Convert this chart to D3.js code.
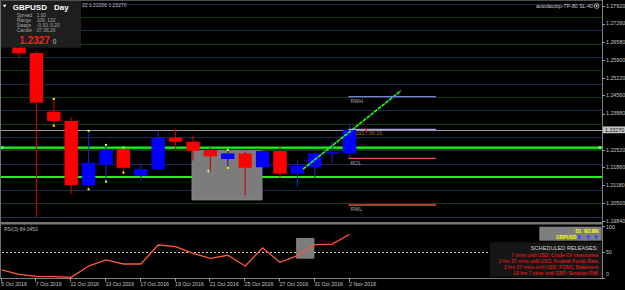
<!DOCTYPE html>
<html><head><meta charset="utf-8">
<script src="https://cdn.jsdelivr.net/npm/d3@7"></script>
<style>
html,body{margin:0;padding:0;background:#000;overflow:hidden}
svg{display:block}
text{font-family:"Liberation Sans",Arial,sans-serif}
</style></head><body>
<svg id="c" width="625" height="290"></svg>
<script>
// ---------------- DATA ----------------
const dates  = ["5 Oct","6 Oct","7 Oct","10 Oct","11 Oct","12 Oct","13 Oct","14 Oct","17 Oct","18 Oct","19 Oct","20 Oct","21 Oct","24 Oct","25 Oct","26 Oct","27 Oct","28 Oct","31 Oct","1 Nov","2 Nov"];
const opens  = [1.2745,1.2712,1.2615,1.2395,1.2360,1.2119,1.2195,1.2254,1.2154,1.2178,1.2297,1.2282,1.2251,1.2217,1.2238,1.2186,1.2247,1.2162,1.2186,1.2238,1.2238];
const highs  = [1.2765,1.2728,1.2623,1.2443,1.2374,1.2323,1.2270,1.2260,1.2201,1.2323,1.2330,1.2304,1.2261,1.2251,1.2245,1.2250,1.2270,1.2213,1.2247,1.2282,1.2351];
const lows   = [1.2700,1.2599,1.1998,1.2342,1.2086,1.2103,1.2132,1.2166,1.2136,1.2176,1.2251,1.2211,1.2169,1.2184,1.2081,1.2153,1.2148,1.2113,1.2145,1.2203,1.2220];
const closes = [1.2712,1.2614,1.2429,1.2360,1.2119,1.2203,1.2254,1.2184,1.2179,1.2297,1.2282,1.2248,1.2227,1.2238,1.2184,1.2247,1.2162,1.2191,1.2238,1.2243,1.2327];
const rsiValues = [14.6,6.0,2.3,1.6,0.4,22.3,34.0,26.2,26.2,63.1,59.8,47.0,37.3,43.1,22.3,57.3,29.5,42.3,63.7,65.0,84.045];
const markedBars = [3,5,6,7,13];               // yellow high/low markers
const priceTicks = [1.27920,1.27260,1.26580,1.25900,1.25220,1.24560,1.23880,1.22520,1.21860,1.21180,1.20500,1.19840];
const dateTickIdx = [0,2,4,6,8,10,12,14,16,18,20];
const dateTickLabels = ["5 Oct 2016","7 Oct 2016","11 Oct 2016","13 Oct 2016","17 Oct 2016","19 Oct 2016","21 Oct 2016","25 Oct 2016","27 Oct 2016","31 Oct 2016","2 Nov 2016"];
const rsiTicks = [100,50,0];
const bidPrice = 1.2327;
const greenLevels = [1.22595,1.21494];
const zoneBars = [10.94,14.97], zonePrices = [1.2248,1.2063];
const trendBars = [17.32,22.95], trendPrices = [1.2179,1.2474];
const levelBars = [19.93,24.97];
const levelNames = ["RWH","","ROL","RWL"];
const levelPrices = [1.24512,1.23286,1.22197,1.20442];
const levelColors = ["#7f7fe0","#a4a4e4","#f04848","#f04848"];
const rsiZoneBars = [16.96,17.95], rsiZoneVals = [76,37.5];
const releases = ["7 mins until USD: Crude Oil Inventories","3 hrs 37 mins until USD: Federal Funds Rate","3 hrs 37 mins until USD: FOMC Statement","19 hrs 7 mins until GBP: Services PMI"];
const infoLabels = ["Spread","Range","Swaps","Candle"];
const infoValues = ["1.00","109, 132","-0.33, 0.20","07:36:26"];
const headerText = "22 1.22200 1.23270";

// ---------------- LAYOUT ----------------
const W=625,H=290,PR=602,MB=222,RT=224.5,RB=278;
const svg=d3.select("#c");
const x=d3.scaleLinear().domain([0,20]).range([1.6,349.6]);
const y=d3.scaleLinear().domain([1.1984,1.2792]).range([221,6]);
const ry=d3.scaleLinear().domain([0,100]).range([277.5,226]);
const cr=v=>Math.round(v)+0.5;

svg.append("rect").attr("width",W).attr("height",H).attr("fill","#000");
const defs=svg.append("defs");
defs.append("clipPath").attr("id","mc").append("rect").attr("x",1).attr("y",0).attr("width",PR-1).attr("height",MB);
defs.append("clipPath").attr("id","rc").append("rect").attr("x",1).attr("y",RT+1).attr("width",PR-1).attr("height",RB-RT-1);

const main=svg.append("g").attr("clip-path","url(#mc)");
// grid (round levels)
const gMajor=d3.range(120,129).map(v=>v/100);
const gMinor=d3.range(120,128).map(v=>v/100+0.005);
main.selectAll(".gmaj").data(gMajor).join("line").attr("x1",1).attr("x2",PR).attr("y1",d=>cr(y(d))).attr("y2",d=>cr(y(d)))
  .attr("stroke","#1c2b4c").attr("shape-rendering","crispEdges");
main.selectAll(".gmin").data(gMinor).join("line").attr("x1",1).attr("x2",PR).attr("y1",d=>cr(y(d))).attr("y2",d=>cr(y(d)))
  .attr("stroke","#0b3c0b").attr("shape-rendering","crispEdges");
// bid line
main.append("line").attr("x1",1).attr("x2",PR).attr("y1",cr(y(bidPrice))).attr("y2",cr(y(bidPrice))).attr("stroke","#9a9aa4").attr("shape-rendering","crispEdges");
// green levels
greenLevels.forEach((p,k)=>{
  if(k===0) main.append("line").attr("x1",1).attr("x2",PR).attr("y1",y(p)).attr("y2",y(p)).attr("stroke","#00a800").attr("stroke-width",3);
  main.append("line").attr("x1",1).attr("x2",PR).attr("y1",y(p)).attr("y2",y(p)).attr("stroke","#22ee22").attr("stroke-width",k===0?1.6:2);
});
[2,600].forEach(px=>main.append("rect").attr("x",px-1.5).attr("y",y(greenLevels[0])-1.5).attr("width",3).attr("height",3).attr("fill","#66ff66"));
// grey zone
main.append("rect").attr("x",x(zoneBars[0])).attr("y",y(zonePrices[0])).attr("width",x(zoneBars[1])-x(zoneBars[0]))
  .attr("height",y(zonePrices[1])-y(zonePrices[0])).attr("fill","#7c7c7c").attr("stroke","#8e8e8e").attr("stroke-width",0.8);
// candles
const bw=13.4;
const idx=d3.range(dates.length);
main.selectAll(".wick").data(idx).join("line").attr("x1",i=>x(i)).attr("x2",i=>x(i)).attr("y1",i=>y(highs[i])).attr("y2",i=>y(lows[i]))
  .attr("stroke",i=>closes[i]>=opens[i]?"#1f1fb8":"#cc0000").attr("stroke-width",1.1);
main.selectAll(".body").data(idx).join("rect").attr("x",i=>x(i)-bw/2).attr("width",bw)
  .attr("y",i=>y(Math.max(opens[i],closes[i])))
  .attr("height",i=>Math.max(1.2,Math.abs(y(opens[i])-y(closes[i]))))
  .attr("fill",i=>closes[i]>=opens[i]?"#0000ff":"#ff0000");
// yellow markers
markedBars.forEach(i=>{
  [highs[i],lows[i]].forEach(p=>main.append("rect").attr("x",x(i)-1).attr("y",y(p)-1).attr("width",2).attr("height",2).attr("fill","#ffff00"));
});
// small green cross
main.append("path").attr("d",`M${x(11.88)-1.5},${y(1.2172)}h3M${x(11.88)},${y(1.2172)-1.5}v3`).attr("stroke","#90ff90").attr("stroke-width",1);
// trend line
main.append("line").attr("x1",x(trendBars[0])).attr("y1",y(trendPrices[0])).attr("x2",x(trendBars[1])).attr("y2",y(trendPrices[1]))
  .attr("stroke","#22ff22").attr("stroke-width",1.6).attr("stroke-dasharray","4,0.8");
// right levels
levelPrices.forEach((p,k)=>{
  main.append("line").attr("x1",x(levelBars[0])).attr("x2",x(levelBars[1])).attr("y1",y(p)).attr("y2",y(p)).attr("stroke",levelColors[k]).attr("stroke-width",1.3);
  if(levelNames[k]) main.append("text").attr("x",x(levelBars[0])+2).attr("y",y(p)+6.3).attr("font-size",5.4).attr("fill","#a8a8a8").text(levelNames[k]);
});
main.append("text").attr("x",x(levelBars[0])+7).attr("y",y(bidPrice)+4.8).attr("font-size",5.4).attr("fill","#b0602c").text("2d17:36:26");
main.append("rect").attr("x",365).attr("y",y(bidPrice)-1).attr("width",2).attr("height",2).attr("fill","#ff2020");

// info panel
const info=svg.append("g");
info.append("rect").attr("x",0).attr("y",0).attr("width",81).attr("height",47.7).attr("fill","#1e1e1e");
info.append("path").attr("d","M2.8,4.8h3.6l-1.8,2.6z").attr("fill","#ffffff");
info.append("text").attr("x",12.7).attr("y",9.6).attr("font-size",8).attr("font-weight","bold").attr("fill","#fff").text("GBPUSD");
info.append("text").attr("x",54).attr("y",9.6).attr("font-size",8).attr("font-weight","bold").attr("fill","#fff").text("Day");
infoLabels.forEach((l,k)=>{
  info.append("text").attr("x",16.7).attr("y",16.8+5*k).attr("font-size",4.8).attr("fill","#a6a6a6").text(l);
  info.append("text").attr("x",36.7).attr("y",16.8+5*k).attr("font-size",4.8).attr("fill","#a6a6a6").text(infoValues[k]);
});
info.append("text").attr("x",19.3).attr("y",44).attr("font-size",10).attr("font-weight","bold").attr("fill","#ff1c1c").text("1.2327");
info.append("text").attr("x",52.7).attr("y",44).attr("font-size",6.5).attr("fill","#c8c8c8").text("0");
// header text (visible tail of the MT4 title line)
svg.append("text").attr("x",82).attr("y",7.2).attr("font-size",5).attr("fill","#bdbdbd").text(headerText);

// top right label
svg.append("text").attr("x",593).attr("y",7.8).attr("text-anchor","end").attr("font-size",5.2).attr("fill","#c8c8c8").text("autodautop-TP-80 SL-40");
svg.append("circle").attr("cx",596.6).attr("cy",6).attr("r",2.4).attr("fill","none").attr("stroke","#c8c8c8").attr("stroke-width",0.8);
svg.append("circle").attr("cx",596.6).attr("cy",6).attr("r",1).attr("fill","#c8c8c8");

// frame
svg.append("line").attr("x1",0.5).attr("x2",0.5).attr("y1",0).attr("y2",RB).attr("stroke","#707070");
svg.append("line").attr("x1",0).attr("x2",PR).attr("y1",0.5).attr("y2",0.5).attr("stroke","#505050");
svg.append("rect").attr("x",0).attr("y",MB).attr("width",PR+1).attr("height",2.5).attr("fill","#767676");
svg.append("line").attr("x1",0).attr("x2",PR+1).attr("y1",RB+0.5).attr("y2",RB+0.5).attr("stroke","#808080");
svg.append("line").attr("x1",PR+0.5).attr("x2",PR+0.5).attr("y1",0).attr("y2",RB+1).attr("stroke","#808080");

// price axis
const yAxis=svg.append("g");
priceTicks.forEach(t=>{
  yAxis.append("line").attr("x1",PR).attr("x2",PR+3).attr("y1",cr(y(t))).attr("y2",cr(y(t))).attr("stroke","#9a9a9a");
  yAxis.append("text").attr("x",PR+4).attr("y",y(t)+1.9).attr("font-size",5.3).attr("fill","#c4c4c4").text(t.toFixed(5));
});
yAxis.append("rect").attr("x",PR+1).attr("y",y(bidPrice)-3.3).attr("width",22).attr("height",6.8).attr("fill","#c4c4c4");
yAxis.append("text").attr("x",PR+3).attr("y",y(bidPrice)+2).attr("font-size",5.3).attr("fill","#111").text(bidPrice.toFixed(5));

// RSI panel
const rsi=svg.append("g").attr("clip-path","url(#rc)");
rsi.append("line").attr("x1",2).attr("x2",PR).attr("y1",cr(ry(50))).attr("y2",cr(ry(50))).attr("stroke","#d0d0d0").attr("stroke-dasharray","2,2").attr("shape-rendering","crispEdges");
rsi.append("rect").attr("x",x(rsiZoneBars[0])).attr("y",ry(rsiZoneVals[0])).attr("width",x(rsiZoneBars[1])-x(rsiZoneBars[0]))
  .attr("height",ry(rsiZoneVals[1])-ry(rsiZoneVals[0])).attr("fill","#7c7c7c").attr("stroke","#8e8e8e").attr("stroke-width",0.8);
rsi.append("path").datum(rsiValues).attr("d",d3.line().x((d,i)=>x(i)).y(d=>ry(d))).attr("fill","none").attr("stroke","#ff5a36").attr("stroke-width",1.3);
rsi.append("text").attr("x",4).attr("y",230.8).attr("font-size",5).attr("fill","#bdbdbd").text("RSI(3) "+rsiValues[rsiValues.length-1].toFixed(4));
// MTF box
rsi.append("rect").attr("x",539.3).attr("y",226.7).attr("width",62.4).attr("height",14).attr("fill","#7e7e7e");
[["D1",575.5],["W1",584],["MN",591.5]].forEach(([t,px])=>rsi.append("text").attr("x",px).attr("y",232.5).attr("font-size",4.6).attr("font-weight","bold").attr("fill","#ffff00").text(t));
rsi.append("text").attr("x",556).attr("y",238.6).attr("font-size",4.8).attr("font-weight","bold").attr("fill","#ffff00").text("GBPUSD");
[579.3,588.3,596].forEach(px=>rsi.append("path").attr("d",`M${px},234.8l-2,2.2h1.3v2.2h1.4v-2.2h1.3z`).attr("fill","#1a50ff"));
// releases
rsi.append("rect").attr("x",490).attr("y",242.3).attr("width",112).attr("height",34.5).attr("fill","#161616");
rsi.append("text").attr("x",598).attr("y",250.2).attr("text-anchor","end").attr("font-size",5.6).attr("fill","#d4d4d4").text("SCHEDULED RELEASES:");
releases.forEach((r,k)=>rsi.append("text").attr("x",598).attr("y",256.8+5.9*k).attr("text-anchor","end").attr("font-size",5).attr("fill","#ff1a1a").text(r));
// RSI axis labels
rsiTicks.forEach(t=>{
  const yy = t===100? ry(t)+3.4 : t===0? ry(t)-1.6 : ry(t)+2;
  svg.append("line").attr("x1",PR).attr("x2",PR+3).attr("y1",cr(ry(t))).attr("y2",cr(ry(t))).attr("stroke","#9a9a9a");
  svg.append("text").attr("x",PR+4).attr("y",yy).attr("font-size",5.3).attr("fill","#c4c4c4").text(t);
});

// date axis
dateTickIdx.forEach((i,k)=>{
  svg.append("line").attr("x1",cr(x(i)-1)).attr("x2",cr(x(i)-1)).attr("y1",RB).attr("y2",RB+3.5).attr("stroke","#9a9a9a");
  svg.append("text").attr("x",x(i)-0.6).attr("y",285.6).attr("font-size",5.3).attr("fill","#c4c4c4").text(dateTickLabels[k]);
});
</script>
</body></html>
